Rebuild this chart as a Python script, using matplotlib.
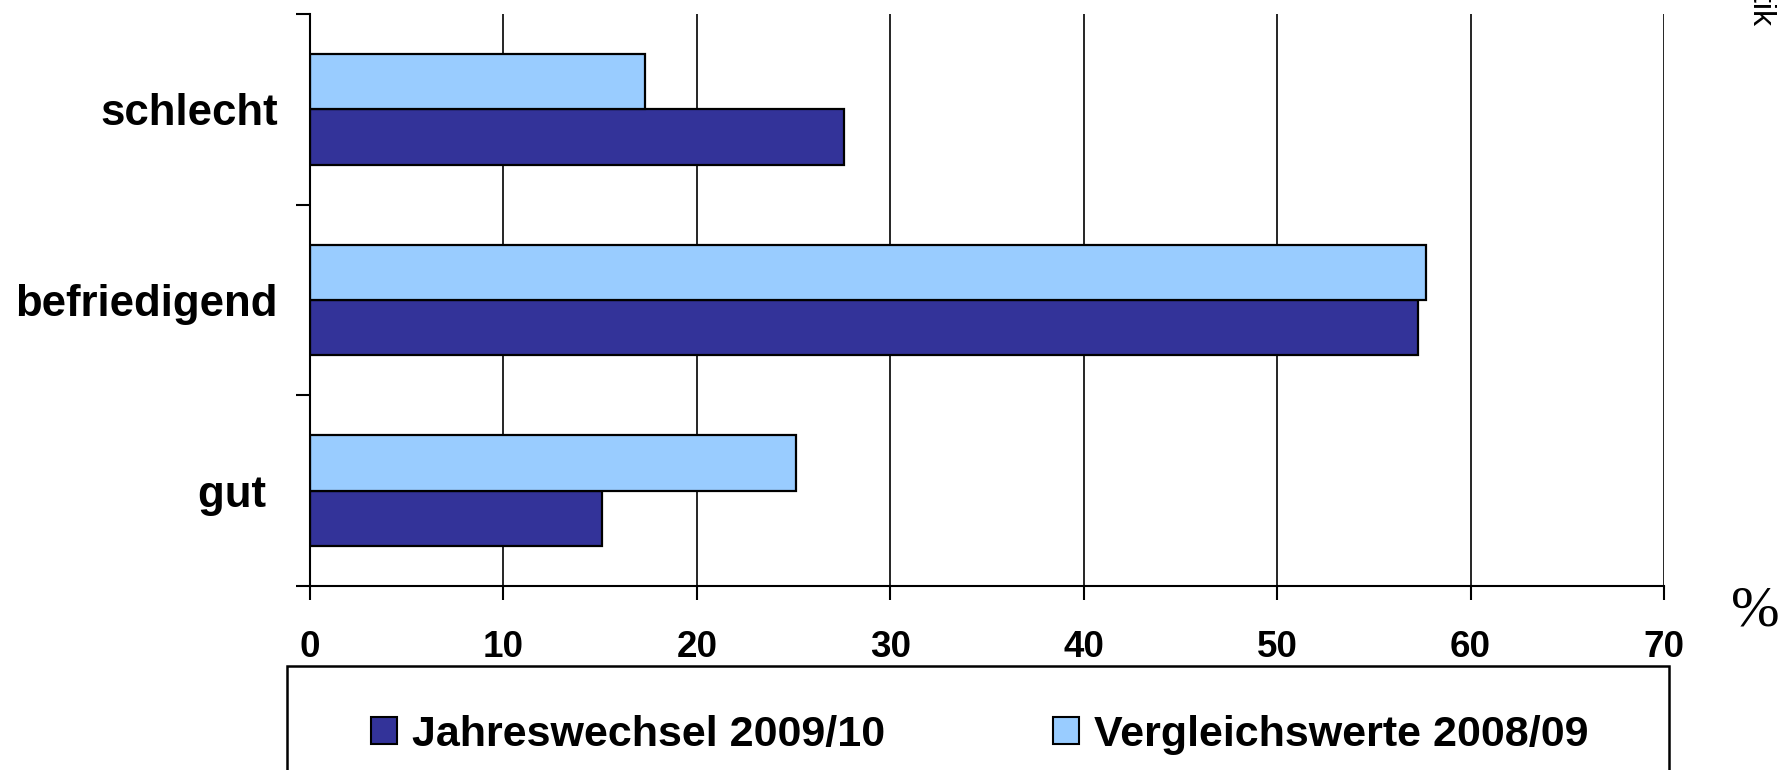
import matplotlib
matplotlib.use("Agg")
import matplotlib.pyplot as plt
from matplotlib.patches import Rectangle, Patch
import numpy as np

categories = ["gut ", "befriedigend", "schlecht"]
series_names = ["Jahreswechsel 2009/10", "Vergleichswerte 2008/09"]
jahreswechsel = [15.1, 57.3, 27.6]
vergleich = [25.1, 57.7, 17.3]
x_ticks = [0, 10, 20, 30, 40, 50, 60, 70]

dark = "#333399"
light = "#99CCFF"

plt.rcParams['font.family'] = ['Liberation Sans', 'DejaVu Sans']

fig = plt.figure(figsize=(17.92, 7.7), dpi=100)
ax = fig.add_axes([310/1792, 1 - 586/770, (1664 - 310)/1792, (586 - 14)/770])

y = np.arange(len(categories))
h = 0.29
ax.barh(y - h/2, jahreswechsel, height=h, color=dark, edgecolor="black", linewidth=1.6, zorder=3)
ax.barh(y + h/2, vergleich, height=h, color=light, edgecolor="black", linewidth=1.6, zorder=3)

ax.set_xlim(0, 70)
ax.set_ylim(-0.5, len(categories) - 0.5)
ax.set_xticks(x_ticks)
ax.set_xticklabels([str(v) for v in x_ticks], fontsize=26.5, fontweight="bold")
ax.tick_params(axis="x", length=10, width=1.5, pad=22, direction="out")

ax.set_yticks(np.arange(-0.5, len(categories), 1.0))
ax.set_yticklabels([])
ax.tick_params(axis="y", which="major", length=10, width=1.5, direction="out")
ax.set_yticks(y, minor=True)
ax.set_yticklabels(categories, minor=True, fontsize=31.5, fontweight="bold")
ax.tick_params(axis="y", which="minor", length=0, pad=23)

ax.grid(axis="x", color="black", linewidth=1.2, zorder=0)
ax.set_axisbelow(True)
for s in ["top", "right"]:
    ax.spines[s].set_visible(False)
for s in ["left", "bottom"]:
    ax.spines[s].set_linewidth(1.5)
    ax.spines[s].set_zorder(4)

# legend box (extends below figure edge)
fig.patches.append(Rectangle((287/1792, -0.1), (1669 - 287)/1792, 0.1 + 1 - 666/770,
                             transform=fig.transFigure, facecolor="white",
                             edgecolor="black", linewidth=1.8, zorder=1))
handles = [Patch(facecolor=dark, edgecolor="black", linewidth=1.5),
           Patch(facecolor=light, edgecolor="black", linewidth=1.5)]
leg = fig.legend(handles, series_names, ncol=2, frameon=False, loc="center",
                 bbox_to_anchor=(980/1792, 1 - 735/770),
                 prop={"size": 31, "weight": "bold"},
                 handlelength=0.6, handleheight=0.6, handletextpad=0.35,
                 columnspacing=3.9)
leg.set_zorder(5)

fig.text(1755/1792, 1 - 611/770, "%", fontsize=42, family="Liberation Serif",
         ha="center", va="center")
fig.text(1760/1792, 1 - 27/770, "Statistik", fontsize=23, rotation=270,
         ha="center", va="bottom")

fig.savefig("out.png", dpi=100)
